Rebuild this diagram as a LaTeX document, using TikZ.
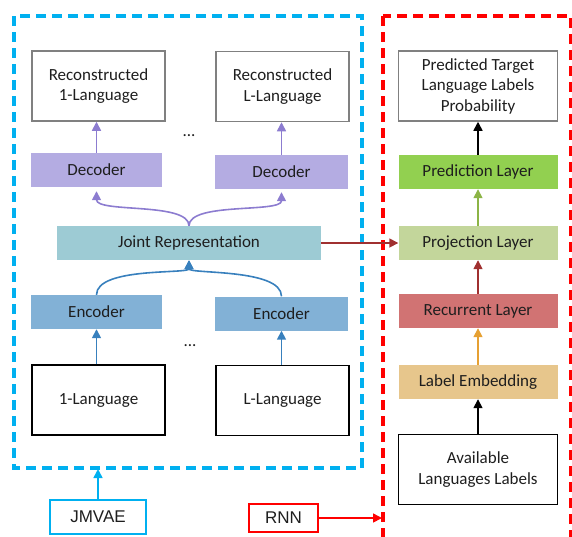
\documentclass[tikz,border=0pt]{standalone}
\usepackage{fontspec}
\setmainfont{Carlito}
\newfontfamily\arialfont{Liberation Sans}
\usetikzlibrary{arrows.meta}

\definecolor{gris}{RGB}{128,128,128}
\definecolor{texte}{RGB}{30,30,30}
\definecolor{bleuvif}{RGB}{0,176,240}
\definecolor{violetc}{RGB}{180,172,226}
\definecolor{violetf}{RGB}{140,124,208}
\definecolor{turq}{RGB}{157,203,212}
\definecolor{bleuc}{RGB}{130,177,214}
\definecolor{bleuf}{RGB}{56,128,189}
\definecolor{vertf}{RGB}{146,208,80}
\definecolor{vertc}{RGB}{195,214,155}
\definecolor{vertfl}{RGB}{140,180,70}
\definecolor{rougec}{RGB}{209,115,115}
\definecolor{rougef}{RGB}{160,48,48}
\definecolor{orc}{RGB}{231,198,140}
\definecolor{orf}{RGB}{230,160,50}

\tikzset{
	boite/.style={draw=gris, line width=1.5pt, fill=white, minimum width=133pt, minimum height=70pt, inner sep=0pt, align=center},
	bloc/.style={minimum width=131pt, minimum height=34pt, inner sep=0pt},
	etiq/.style={line width=1.4pt, inner sep=0pt, font=\arialfont\fontsize{17}{20}\selectfont},
	cadre/.style={line width=3.5pt, dash pattern=on 10pt off 6pt},
	fleche/.style={-{Triangle[width=9pt,length=9pt]}, line width=1.6pt},
}

\begin{document}
\begin{tikzpicture}[x=1pt,y=-1pt,line join=miter,text=texte,font=\fontsize{17}{20.5}\selectfont]
		\clip (0,0) rectangle (572,536);
		% cadres
		\draw[cadre, bleuvif] (14,16) rectangle (362,468);
		\draw[cadre, red] (383,16) rectangle (571,560);
		% partie JMVAE
		\node[boite] (rec1) at (98.5,86) {Reconstructed\\1-Language};
		\node[boite] (recL) at (282.5,86.5) {Reconstructed\\L-Language};
		\node (pts1) at (189,136) {...};
		\node[bloc, fill=violetc] (dec1) at (96.5,170) {Decoder};
		\node[bloc, fill=violetc, minimum width=133pt] (decL) at (281.5,172) {Decoder};
		\node[bloc, fill=turq, minimum width=264pt] (joint) at (189,243) {Joint Representation};
		\node[bloc, fill=bleuc] (enc1) at (96.5,312) {Encoder};
		\node[bloc, fill=bleuc, minimum width=133pt] (encL) at (281.5,313.5) {Encoder};
		\node (pts2) at (190,346) {...};
		\node[boite, draw=black] (lang1) at (98.5,400) {1-Language};
		\node[boite, draw=black] (langL) at (282.5,400.5) {L-Language};
		% partie RNN
		\node[boite, minimum width=159pt] (pred) at (478,86) {Predicted Target\\Language Labels\\Probability};
		\node[bloc, fill=vertf, minimum width=159pt] (predl) at (478,172) {Prediction Layer};
		\node[bloc, fill=vertc, minimum width=159pt] (proj) at (478,243) {Projection Layer};
		\node[bloc, fill=rougec, minimum width=159pt] (recu) at (478,311) {Recurrent Layer};
		\node[bloc, fill=orc, minimum width=159pt] (emb) at (478,382) {Label Embedding};
		\node[boite, draw=black, minimum width=159pt] (dispo) at (478,469.5) {Available\\Languages Labels};
		% etiquettes
		\node[etiq, draw=bleuvif, minimum width=96pt, minimum height=34pt] (jmvae) at (98,517) {JMVAE};
		\node[etiq, draw=red, minimum width=69pt, minimum height=28pt] (rnn) at (283.5,518) {RNN};
		\coordinate (basbleu) at (98,469);
		\coordinate (bordrouge) at (382,518);
		% fleches gauche
		\draw[fleche, violetf] (dec1.north) -- (dec1.north |- rec1.south);
		\draw[fleche, violetf] (decL.north) -- (decL.north |- recL.south);
		\draw[fleche, violetf, shorten >=4pt] (joint.north) .. controls +(0,-24) and +(0,26) .. (dec1.south);
		\draw[fleche, violetf, shorten >=3pt] (joint.north) .. controls +(0,-24) and +(0,24) .. (decL.south);
		\draw[fleche, bleuf] (enc1.north) .. controls +(0,-28) and +(0,14) .. (joint.south);
		\draw[fleche, bleuf] (encL.north) .. controls +(0,-28) and +(0,14) .. (joint.south);
		\draw[fleche, bleuf] (enc1.south |- lang1.north) -- (enc1.south);
		\draw[fleche, bleuf] (encL.south |- langL.north) -- (encL.south);
		% fleches droite
		\draw[fleche, black] (predl.north) -- (pred.south);
		\draw[fleche, vertfl] (proj.north) -- (predl.south);
		\draw[fleche, rougef] (recu.north) -- (proj.south);
		\draw[fleche, orf] (emb.north) -- (recu.south);
		\draw[fleche, black] (dispo.north) -- (emb.south);
		\draw[fleche, rougef] (joint.east) -- (proj.west);
		% etiquettes vers cadres
		\draw[fleche, bleuvif] (jmvae.north) -- (basbleu);
		\draw[fleche, red] (rnn.east) -- (bordrouge);
\end{tikzpicture}
\end{document}
